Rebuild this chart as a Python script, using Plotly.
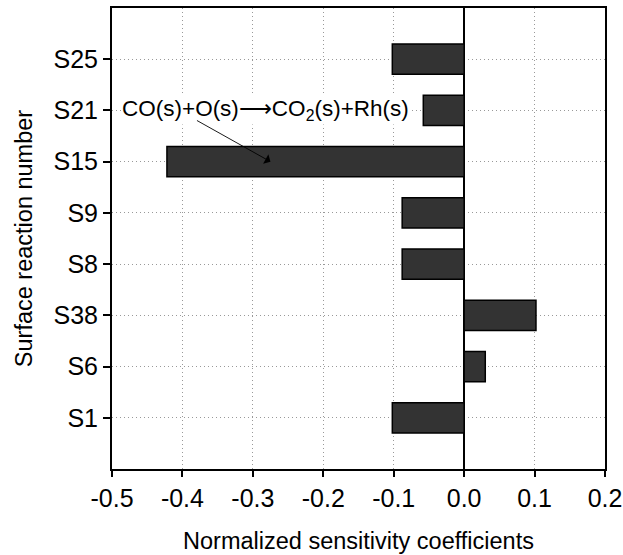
import plotly.graph_objects as go

categories = ["S1", "S6", "S38", "S8", "S9", "S15", "S21", "S25"]
values = [-0.102, 0.03, 0.102, -0.088, -0.088, -0.422, -0.058, -0.102]
x_ticks = [-0.5, -0.4, -0.3, -0.2, -0.1, 0.0, 0.1, 0.2]
x_ticklabels = ["-0.5", "-0.4", "-0.3", "-0.2", "-0.1", "0.0", "0.1", "0.2"]

FONT = "Liberation Sans, Arial, sans-serif"

fig = go.Figure()
fig.add_trace(go.Bar(
    y=categories, x=values, orientation="h",
    marker=dict(color="#333333", line=dict(color="black", width=1.5)),
    width=0.59,
))

fig.update_layout(
    width=623, height=555,
    margin=dict(l=112, r=18, t=8, b=86),
    plot_bgcolor="white", paper_bgcolor="white",
    showlegend=False,
    font=dict(family=FONT, color="black"),
    xaxis=dict(
        range=[-0.5, 0.2], tickvals=x_ticks, ticktext=x_ticklabels,
        ticks="outside", ticklen=6, tickwidth=2, tickcolor="black",
        showline=True, linecolor="black", linewidth=2, mirror=True,
        showgrid=True, gridcolor="#999999", griddash="1px,3px", gridwidth=1,
        zeroline=True, zerolinecolor="black", zerolinewidth=1.5,
        tickfont=dict(size=25, family=FONT), automargin=False,
        title=dict(text="Normalized sensitivity coefficients", font=dict(size=23.5, family=FONT), standoff=22),
    ),
    yaxis=dict(
        type="category", categoryorder="array", categoryarray=categories,
        range=[-1, 8],
        ticks="outside", ticklen=7, tickwidth=2, tickcolor="black",
        showline=True, linecolor="black", linewidth=2, mirror=True,
        showgrid=True, gridcolor="#999999", griddash="1px,3px", gridwidth=1,
        tickfont=dict(size=25, family=FONT), automargin=False,
        title=dict(text="Surface reaction number", font=dict(size=23.5, family=FONT), standoff=14),
    ),
)

fig.add_annotation(
    x=-0.487, y="S21", xref="x", yref="y",
    text="CO(s)+O(s)⟶CO<sub>2</sub>(s)+Rh(s)",
    showarrow=False, xanchor="left", yanchor="middle",
    bgcolor="white", borderpad=0,
    font=dict(size=22.5, family=FONT, color="black"),
)
fig.add_annotation(
    x=-0.275, y="S15", xref="x", yref="y",
    text="", showarrow=True, ax=-75, ay=-42,
    arrowhead=1, arrowsize=2, arrowwidth=0.9, arrowcolor="black", standoff=0,
)

fig.write_html("out.html", config={"displayModeBar": False},
               post_script="document.body.style.margin='0px';")
